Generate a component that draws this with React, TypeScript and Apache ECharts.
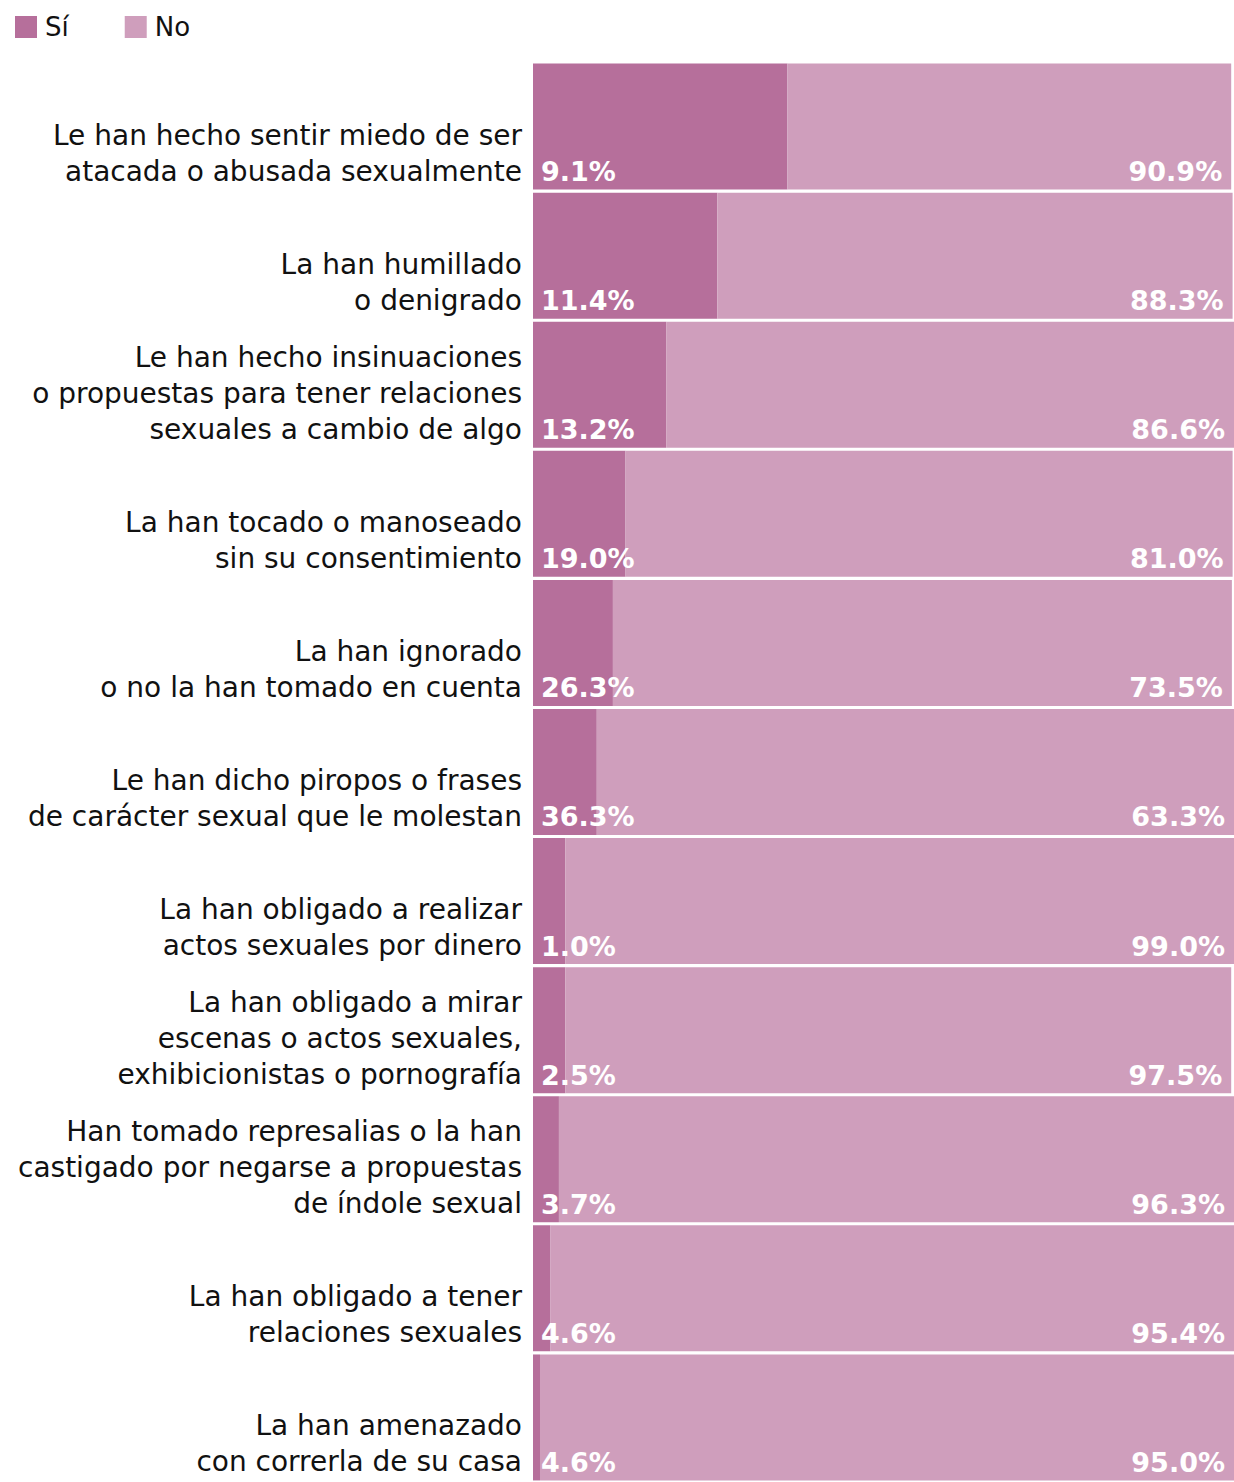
import React, { useEffect, useRef } from "react";
import * as echarts from "echarts";

// Printed category texts (display order, top to bottom)
const categories: string[] = [
  "Le han hecho sentir miedo de ser\natacada o abusada sexualmente",
  "La han humillado\no denigrado",
  "Le han hecho insinuaciones\no propuestas para tener relaciones\nsexuales a cambio de algo",
  "La han tocado o manoseado\nsin su consentimiento",
  "La han ignorado\no no la han tomado en cuenta",
  "Le han dicho piropos o frases\nde carácter sexual que le molestan",
  "La han obligado a realizar\nactos sexuales por dinero",
  "La han obligado a mirar\nescenas o actos sexuales,\nexhibicionistas o pornografía",
  "Han tomado represalias o la han\ncastigado por negarse a propuestas\nde índole sexual",
  "La han obligado a tener\nrelaciones sexuales",
  "La han amenazado\ncon correrla de su casa",
];

// Bar lengths as drawn (%)
const siBarValues: number[] = [36.3, 26.3, 19.0, 13.2, 11.4, 9.1, 4.6, 4.6, 3.7, 2.5, 1.0];
const noBarValues: number[] = [63.3, 73.5, 81.0, 86.6, 88.3, 90.9, 95.4, 95.0, 96.3, 97.5, 99.0];

// Printed value labels (%)
const siLabels: number[] = [9.1, 11.4, 13.2, 19.0, 26.3, 36.3, 1.0, 2.5, 3.7, 4.6, 4.6];
const noLabels: number[] = [90.9, 88.3, 86.6, 81.0, 73.5, 63.3, 99.0, 97.5, 96.3, 95.4, 95.0];

const seriesNames = ["Sí", "No"];
const COLORS = ["#b66f9b", "#cf9ebc"];
const FONT = "DejaVu Sans";

export default function App() {
  const ref = useRef<HTMLDivElement>(null);
  useEffect(() => {
    if (!ref.current) return;
    const chart = echarts.init(ref.current, null, { renderer: "svg" });
    const valueLabel = {
      show: true,
      color: "#ffffff",
      fontFamily: FONT,
      fontWeight: "bold" as const,
      fontSize: 27,
      lineHeight: 30,
      distance: 0,
    };
    chart.setOption({
      animation: false,
      color: COLORS,
      legend: {
        left: 10,
        top: 9,
        itemWidth: 22,
        itemHeight: 22,
        itemGap: 56,
        icon: "rect",
        data: seriesNames,
        textStyle: {
          fontFamily: FONT,
          fontSize: 26,
          color: "#111",
          padding: [0, 0, 0, 3],
        },
      },
      grid: { left: 533, right: 0, top: 62, bottom: 0, containLabel: false },
      xAxis: { type: "value", min: 0, max: 100, show: false },
      yAxis: {
        type: "category",
        inverse: true,
        data: categories,
        axisLine: { show: false },
        axisTick: { show: false },
        splitLine: { show: false },
        axisLabel: {
          margin: 11,
          align: "right",
          verticalAlign: "middle",
          formatter: (v: string) => {
            const lines = v.split("\n");
            return `{s${lines.length}| }\n` + lines.map((l) => `{t|${l}}`).join("\n");
          },
          rich: {
            t: { fontFamily: FONT, fontSize: 28, lineHeight: 36, color: "#111", align: "right" },
            s1: { fontSize: 1, lineHeight: 89 },
            s2: { fontSize: 1, lineHeight: 53 },
            s3: { fontSize: 1, lineHeight: 17 },
          },
        },
      },
      series: [
        {
          name: seriesNames[0],
          type: "bar",
          stack: "total",
          barCategoryGap: "2.4%",
          data: siBarValues,
          label: {
            ...valueLabel,
            position: "insideBottomLeft",
            offset: [8, -3],
            formatter: (p: any) => siLabels[p.dataIndex].toFixed(1) + "%",
          },
        },
        {
          name: seriesNames[1],
          type: "bar",
          stack: "total",
          barCategoryGap: "2.4%",
          data: noBarValues,
          label: {
            ...valueLabel,
            position: "insideBottomRight",
            offset: [-9, -3],
            formatter: (p: any) => noLabels[p.dataIndex].toFixed(1) + "%",
          },
        },
      ],
    });
    return () => chart.dispose();
  }, []);
  return (
    <div
      ref={ref}
      style={{ position: "absolute", left: 0, top: 0, width: 1234, height: 1482, background: "#fff" }}
    />
  );
}
